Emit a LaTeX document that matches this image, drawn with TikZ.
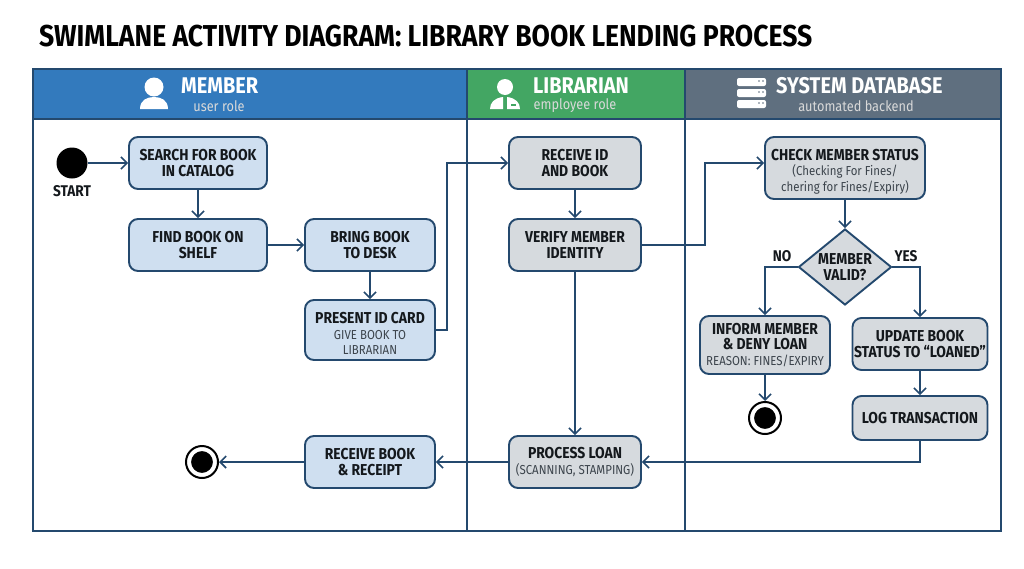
\documentclass[tikz,border=0pt]{standalone}
\usepackage{fontspec}
\setmainfont{Fira Sans}
\newfontfamily\narrowfont[FakeStretch=0.88]{Fira Sans}
\usepackage{tikz}
\usetikzlibrary{calc,shapes.geometric,arrows.meta}
\definecolor{lineblue}{HTML}{24496E}
\definecolor{memberblue}{HTML}{337ABD}
\definecolor{staffgreen}{HTML}{43A663}
\definecolor{dbgray}{HTML}{5F6F7F}
\definecolor{boxblue}{HTML}{CFDFF0}
\definecolor{boxgray}{HTML}{D6DADE}
\definecolor{inktext}{HTML}{14181C}
\definecolor{subtext}{HTML}{3C444C}

\newcommand{\sub}[1]{{\fontsize{13}{15}\selectfont\mdseries\color{subtext}#1}}
\newcommand{\topgap}{\rule{0pt}{18pt}}

\begin{document}
\begin{tikzpicture}[x=1pt,y=-1pt,
    act/.style={rectangle, rounded corners=9pt, draw=lineblue, line width=1.9pt,
      align=center, font=\narrowfont\bfseries\fontsize{15.8}{15.5}\selectfont, text=inktext,
      inner sep=0pt},
    actm/.style={act, fill=boxblue},
    acts/.style={act, fill=boxgray},
    htitle/.style={text=white, font=\narrowfont\bfseries\fontsize{22.7}{24}\selectfont, inner sep=0pt},
    hsub/.style={text=white!85!black, font=\narrowfont\fontsize{14.5}{16}\selectfont, inner sep=0pt},
    lbl/.style={text=inktext, font=\narrowfont\bfseries\fontsize{15.5}{17}\selectfont, inner sep=0pt},
    startdot/.style={circle, fill=black, inner sep=0pt, minimum size=31pt},
    enddot/.style={circle, fill=black, draw=white, line width=2pt, inner sep=0pt, minimum size=24pt},
    endring/.style={circle, draw=black, line width=2pt, inner sep=0pt, minimum size=32pt},
    flow/.style={draw=lineblue, line width=1.9pt, ->},
    >={Straight Barb[length=6pt,width=12pt,line width=1.6pt]}]
  \useasboundingbox (0,0) rectangle (1024,568);

  % title
  \node[anchor=west, inner sep=0pt, text=black, font=\narrowfont\bfseries\fontsize{30.2}{32}\selectfont] (title)
    at (39,36) {SWIMLANE ACTIVITY DIAGRAM: LIBRARY BOOK LENDING PROCESS};

  % headers
  \fill[memberblue] (33,69) rectangle (467,119);
  \fill[staffgreen] (467,69) rectangle (685,119);
  \fill[dbgray] (685,69) rectangle (1001,119);

  \node[htitle, anchor=west] (hmember) at (181,86) {MEMBER};
  \node[hsub] (hmembersub) at (219,106) {user role};
  \node[htitle, anchor=west] (hlib) at (533,86) {LIBRARIAN};
  \node[hsub] (hlibsub) at (575,106) {employee role};
  \node[htitle, anchor=west] (hdb) at (776,86) {SYSTEM DATABASE};
  \node[hsub] (hdbsub) at (856,106) {automated backend};

  % member icon
  \fill[white] (154,87) circle (9.5);
  \fill[white] (140,109) .. controls (140,100) and (147,97) .. (154,97)
    .. controls (161,97) and (168,100) .. (168,109) -- cycle;
  % librarian icon
  \fill[white] (505,87) circle (8);
  \fill[white] (490,109) .. controls (490,103) and (494,98) .. (503,97) -- (503,109) -- cycle;
  \fill[white] (507,109) -- (507,97) .. controls (516,98) and (520,103) .. (520,109) -- cycle;
  \fill[staffgreen] (511,104) rectangle (516,105.5);
  % database icon
  \foreach \yy in {78,89,100}{
    \fill[white, rounded corners=2pt] (737,\yy) rectangle (766,\yy+8);
    \fill[dbgray] (759,\yy+3) circle (0.9) (763,\yy+3) circle (0.9);
  }

  % lanes
  \draw[lineblue, line width=1.6pt] (33,69) rectangle (1001,531);
  \draw[lineblue, line width=1.6pt] (33,119) -- (1001,119);
  \draw[lineblue, line width=1.6pt] (467,69) -- (467,531);
  \draw[lineblue, line width=1.6pt] (685,69) -- (685,531);

  % member lane
  \node[startdot] (start) at (72,163) {};
  \node[lbl] (startlbl) at (72,191) {START};
  \node[actm, minimum width=138pt, minimum height=52pt] (search) at (198,163) {SEARCH FOR BOOK\\IN CATALOG};
  \node[actm, minimum width=138pt, minimum height=52pt] (shelf) at (198,245) {FIND BOOK ON\\SHELF};
  \node[actm, minimum width=130pt, minimum height=52pt] (desk) at (370,245) {BRING BOOK\\TO DESK};
  \node[actm, minimum width=130pt, minimum height=60pt] (present) at (370,330) {\topgap PRESENT ID CARD\\\sub{GIVE BOOK TO}\\\sub{LIBRARIAN}};
  \node[actm, minimum width=130pt, minimum height=52pt] (receipt) at (370,462) {RECEIVE BOOK\\\& RECEIPT};
  \node[endring] (endring) at (202,462) {};
  \node[enddot] (end) at (202,462) {};

  % librarian lane
  \node[acts, minimum width=132pt, minimum height=52pt] (receive) at (575,163) {RECEIVE ID\\AND BOOK};
  \node[acts, minimum width=132pt, minimum height=52pt] (verify) at (575,245) {VERIFY MEMBER\\IDENTITY};
  \node[acts, minimum width=132pt, minimum height=52pt] (loan) at (575,462) {PROCESS LOAN\\\sub{(SCANNING, STAMPING)}};

  % database lane
  \node[acts, minimum width=160pt, minimum height=62pt] (check) at (845,168) {\topgap CHECK MEMBER STATUS\\\sub{(Checking For Fines/}\\\sub{chering for Fines/Expiry)}};
  \node[acts, diamond, rounded corners=0pt, inner sep=-8pt, minimum width=93pt, minimum height=76pt] (valid) at (845,267) {MEMBER\\VALID?};
  \node[acts, minimum width=130pt, minimum height=58pt] (inform) at (765,345) {INFORM MEMBER\\\& DENY LOAN\\\sub{REASON: FINES/EXPIRY}};
  \node[acts, minimum width=135pt, minimum height=52pt] (update) at (920,344) {UPDATE BOOK\\STATUS TO “LOANED”};
  \node[acts, minimum width=135pt, minimum height=44pt] (logt) at (920,418) {LOG TRANSACTION};
  \node[endring] (denyring) at (765,418) {};
  \node[enddot] (deny) at (765,418) {};

  \coordinate (busa) at (447,163);
  \coordinate (busb) at (705,163);

  % flows
  \draw[flow] (start) -- (search);
  \draw[flow] (search) -- (shelf);
  \draw[flow] (shelf) -- (desk);
  \draw[flow] (desk) -- (present);
  \draw[flow] (present.east) -| (busa) -- (receive.west);
  \draw[flow] (receive) -- (verify);
  \draw[flow] (verify) -- (loan);
  \draw[flow] (verify.east) -| (busb) -- (busb -| check.west);
  \draw[flow] (check.south) -- (valid.north);
  \draw[flow] (valid.west) -| (inform.north);
  \draw[flow] (valid.east) -| (update.north);
  \draw[flow] (inform) -- (denyring);
  \draw[flow] (update) -- (logt);
  \draw[flow] (logt.south) |- (loan.east);
  \draw[flow] (loan) -- (receipt);
  \draw[flow] (receipt) -- (endring);

  % branch labels
  \node[lbl] (no) at (782,256) {NO};
  \node[lbl] (yes) at (906,256) {YES};
\end{tikzpicture}
\end{document}
